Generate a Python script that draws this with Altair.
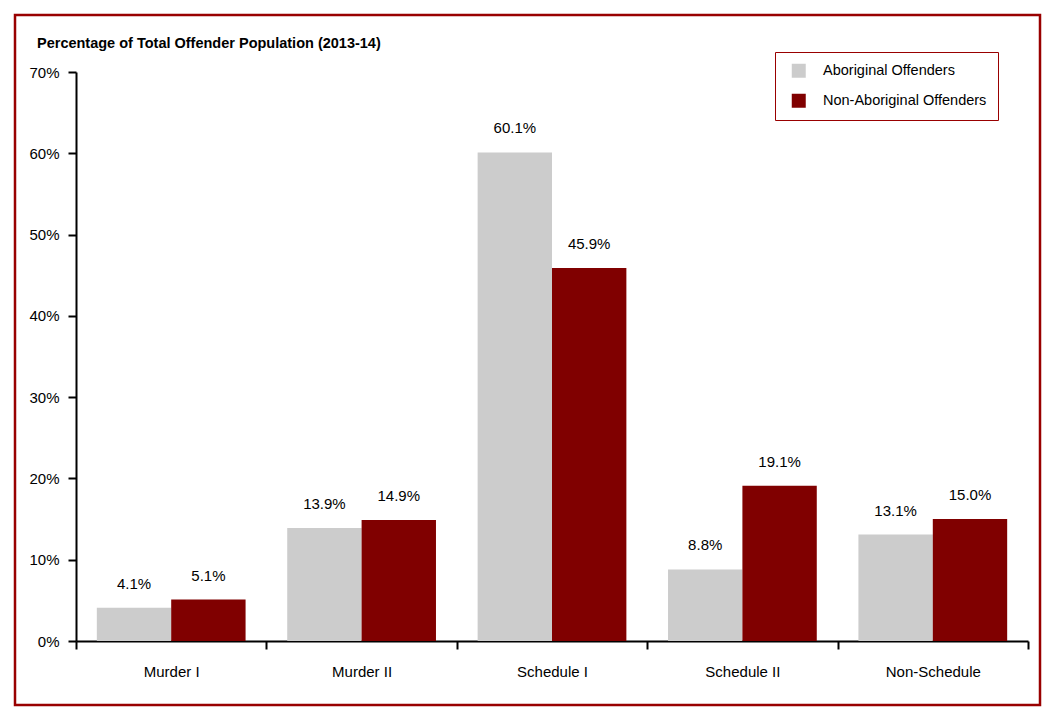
import altair as alt
import pandas as pd

categories = ["Murder I", "Murder II", "Schedule I", "Schedule II", "Non-Schedule"]
groups = ["Aboriginal Offenders", "Non-Aboriginal Offenders"]
aboriginal = [4.1, 13.9, 60.1, 8.8, 13.1]
non_aboriginal = [5.1, 14.9, 45.9, 19.1, 15.0]
y_ticks = [0, 10, 20, 30, 40, 50, 60, 70]
bar_colors = ["#cccccc", "#800000"]

rows = []
for c, a, n in zip(categories, aboriginal, non_aboriginal):
    rows.append({"category": c, "group": groups[0], "value": a})
    rows.append({"category": c, "group": groups[1], "value": n})
df = pd.DataFrame(rows)
df["label"] = df["value"].map(lambda v: f"{v:.1f}%")

FONT = "Liberation Sans, Arial, sans-serif"
FRAME = "#990000"
W, H = 952, 569

x_enc = alt.X(
    "category:N", sort=categories, title=None,
    scale=alt.Scale(paddingInner=0, paddingOuter=0),
    axis=alt.Axis(tickBand="extent", labelAngle=0, domainColor="black", domainWidth=2,
                  tickColor="black", tickWidth=2, tickSize=8, labelPadding=15,
                  labelFont=FONT, labelFontSize=15, labelColor="black"),
)
xo_enc = alt.XOffset("group:N", sort=groups,
                     scale=alt.Scale(paddingInner=0, paddingOuter=0.28))
y_enc = alt.Y(
    "value:Q", title=None,
    scale=alt.Scale(domain=[0, 70], nice=False),
    axis=alt.Axis(values=y_ticks, labelExpr="datum.value + '%'", grid=False,
                  domainColor="black", domainWidth=2, tickColor="black", tickWidth=2,
                  tickSize=8, labelPadding=9, labelFont=FONT, labelFontSize=15,
                  labelColor="black"),
)

legend = alt.Legend(
    title=None, orient="none", legendX=699, legendY=-20,
    symbolType="square", symbolSize=196, symbolStrokeWidth=0, symbolOffset=5,
    labelFont=FONT, labelFontSize=14.5, labelColor="black", labelOffset=17,
    labelLimit=400, rowPadding=14, padding=11.5, strokeColor=FRAME, fillColor="white",
)

bars = alt.Chart(df).mark_bar().encode(
    x=x_enc, xOffset=xo_enc, y=y_enc,
    color=alt.Color("group:N", sort=groups,
                    scale=alt.Scale(domain=groups, range=bar_colors), legend=legend),
)

labels = alt.Chart(df).mark_text(
    baseline="alphabetic", dy=-19, font=FONT, fontSize=15, color="black"
).encode(x=x_enc, xOffset=xo_enc, y=y_enc, text="label:N")

frame = alt.Chart(pd.DataFrame({"k": [0]})).mark_rect(
    filled=False, stroke=FRAME, strokeWidth=2.5
).encode(x=alt.value(-61), x2=alt.value(964), y=alt.value(-57), y2=alt.value(633))

chart = alt.layer(frame, bars, labels).properties(
    width=W, height=H,
    autosize=alt.AutoSizeParams(type="none"),
    padding={"left": 68, "top": 64, "right": 19, "bottom": 70},
    title=alt.TitleParams(
        "Percentage of Total Offender Population (2013-14)",
        anchor="start", frame="group", dx=-39, offset=0, dy=49, baseline="alphabetic",
        font=FONT, fontSize=14.5, fontWeight="bold", color="black",
    ),
).configure_view(stroke="transparent")

chart.save("out.html", embed_options={"renderer": "svg", "actions": False})
